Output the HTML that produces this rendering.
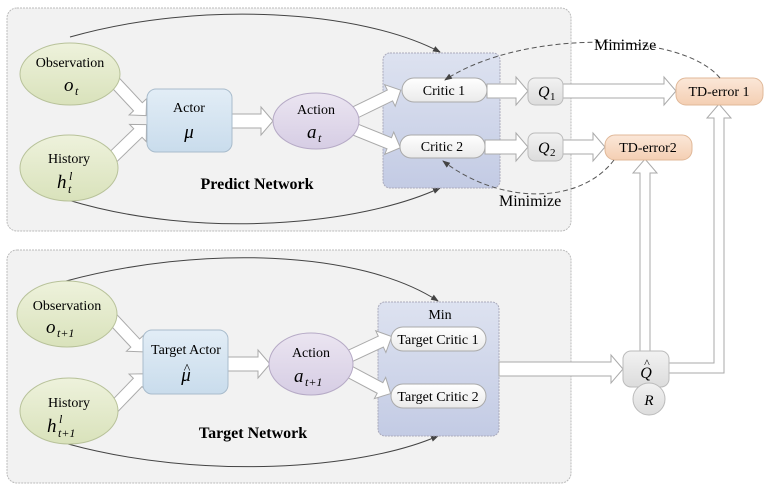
<!DOCTYPE html>
<html><head><meta charset="utf-8"><style>
html,body{margin:0;padding:0;background:#fff;}
svg{display:block;font-family:"Liberation Serif",serif;}
.ha{fill:#fff;stroke:#aaa;stroke-width:1;}
.m{font-style:italic;}
</style></head><body>
<svg width="768" height="491" viewBox="0 0 768 491">
<defs>
<linearGradient id="gE" x1="0" y1="0" x2="0" y2="1"><stop offset="0" stop-color="#eef2dc"/><stop offset="1" stop-color="#d9e2bb"/></linearGradient>
<linearGradient id="gA" x1="0" y1="0" x2="0" y2="1"><stop offset="0" stop-color="#e2edf6"/><stop offset="1" stop-color="#c9dcec"/></linearGradient>
<linearGradient id="gP" x1="0" y1="0" x2="0" y2="1"><stop offset="0" stop-color="#ebe5f1"/><stop offset="1" stop-color="#d6cde4"/></linearGradient>
<linearGradient id="gC" x1="0" y1="0" x2="0" y2="1"><stop offset="0" stop-color="#dde2f0"/><stop offset="1" stop-color="#c3cbe4"/></linearGradient>
<linearGradient id="gW" x1="0" y1="0" x2="0" y2="1"><stop offset="0" stop-color="#ffffff"/><stop offset="1" stop-color="#eaeaea"/></linearGradient>
<linearGradient id="gQ" x1="0" y1="0" x2="0" y2="1"><stop offset="0" stop-color="#f2f2f2"/><stop offset="1" stop-color="#dcdcdc"/></linearGradient>
<linearGradient id="gO" x1="0" y1="0" x2="0" y2="1"><stop offset="0" stop-color="#fbe7d8"/><stop offset="1" stop-color="#f4cfb3"/></linearGradient>
<marker id="ar" markerWidth="8" markerHeight="6" refX="7" refY="3" orient="auto"><path d="M0,0 L8,3 L0,6z" fill="#444"/></marker>
</defs>

<rect x="7" y="8" width="564" height="223" rx="10" fill="#f2f2f2" stroke="#bbb" stroke-dasharray="2,1"/>
<rect x="7" y="250" width="564" height="233" rx="10" fill="#f2f2f2" stroke="#bbb" stroke-dasharray="2,1"/>

<path d="M70,37 C200,0 360,10 440,52" fill="none" stroke="#444" stroke-width="1" marker-end="url(#ar)"/>
<path d="M68,200 C200,240 360,225 440,188" fill="none" stroke="#444" stroke-width="1" marker-end="url(#ar)"/>
<path d="M66,281 C200,245 360,250 438,301" fill="none" stroke="#444" stroke-width="1" marker-end="url(#ar)"/>
<path d="M68,444 C200,480 360,470 438,436" fill="none" stroke="#444" stroke-width="1" marker-end="url(#ar)"/>

<rect x="383" y="53" width="117" height="135" rx="7" fill="url(#gC)" stroke="#aab" stroke-dasharray="2,1"/>
<rect x="378" y="302" width="121" height="134" rx="7" fill="url(#gC)" stroke="#aab" stroke-dasharray="2,1"/>
<text x="440" y="319" font-size="14" text-anchor="middle">Min</text>

<g class="ha">
<polygon transform="translate(112,79) rotate(47)" points="0,-6 38,-6 38,-12 50,0 38,12 38,6 0,6"/>
<polygon transform="translate(112,158) rotate(-44)" points="0,-6 36,-6 36,-12 48,0 36,12 36,6 0,6"/>
<polygon points="232,114 261,114 261,107 273,121 261,135 261,128 232,128"/>
<polygon transform="translate(354,113) rotate(-26)" points="0,-6 40,-6 40,-12 52,0 40,12 40,6 0,6"/>
<polygon transform="translate(354,129) rotate(22)" points="0,-6 38,-6 38,-12 50,0 38,12 38,6 0,6"/>
<polygon points="487,84 516,84 516,77 528,91 516,105 516,98 487,98"/>
<polygon points="485,140 516,140 516,133 528,147 516,161 516,154 485,154"/>
<polygon points="563,84 664,84 664,77 676,91 664,105 664,98 563,98"/>
<polygon points="563,140 593,140 593,133 605,147 593,161 593,154 563,154"/>

<polygon transform="translate(110,316) rotate(47)" points="0,-6 37,-6 37,-12 49,0 37,12 37,6 0,6"/>
<polygon transform="translate(112,409) rotate(-46)" points="0,-6 37,-6 37,-12 49,0 37,12 37,6 0,6"/>
<polygon points="228,357 258,357 258,350 270,364 258,378 258,371 228,371"/>
<polygon transform="translate(350,356) rotate(-25)" points="0,-6 34,-6 34,-12 46,0 34,12 34,6 0,6"/>
<polygon transform="translate(350,372) rotate(28)" points="0,-6 34,-6 34,-12 46,0 34,12 34,6 0,6"/>
<polygon points="499,362 611,362 611,355 623,369 611,383 611,376 499,376"/>
<polygon points="640,351 640,173 633,173 645,159 657,173 650,173 650,351"/>
<polygon points="669,363 714,363 714,118 707,118 719,104 731,118 724,118 724,373 669,373"/>
</g>

<ellipse cx="70" cy="74" rx="50" ry="31" fill="url(#gE)" stroke="#b8c29a"/>
<text x="70" y="67" font-size="14" text-anchor="middle">Observation</text>
<text x="64" y="91" font-size="19" class="m">o</text><text x="75" y="95" font-size="12" class="m">t</text>
<ellipse cx="69" cy="168" rx="49" ry="33" fill="url(#gE)" stroke="#b8c29a"/>
<text x="69" y="163" font-size="14" text-anchor="middle">History</text>
<text x="57" y="188" font-size="19" class="m">h</text><text x="68" y="193" font-size="12" class="m">t</text><text x="69" y="180" font-size="12" class="m">l</text>

<rect x="147" y="89" width="85" height="63" rx="9" fill="url(#gA)" stroke="#a9bccc"/>
<text x="189" y="112" font-size="14" text-anchor="middle">Actor</text>
<text x="189" y="138" font-size="19" class="m" text-anchor="middle">μ</text>

<ellipse cx="316" cy="121" rx="43" ry="28" fill="url(#gP)" stroke="#b6aac6"/>
<text x="316" y="114" font-size="14" text-anchor="middle">Action</text>
<text x="307" y="138" font-size="19" class="m">a</text><text x="318" y="142" font-size="12" class="m">t</text>

<text x="257" y="189" font-size="16" font-weight="bold" text-anchor="middle">Predict Network</text>

<rect x="402" y="78" width="85" height="24" rx="12" fill="url(#gW)" stroke="#aaa"/>
<text x="444" y="95" font-size="14" text-anchor="middle">Critic 1</text>
<rect x="400" y="135" width="85" height="23" rx="11" fill="url(#gW)" stroke="#aaa"/>
<text x="442" y="151" font-size="14" text-anchor="middle">Critic 2</text>

<rect x="528" y="78" width="35" height="27" rx="7" fill="url(#gQ)" stroke="#bbb"/>
<text x="538" y="97" font-size="16" class="m">Q</text><text x="550" y="100" font-size="11">1</text>
<rect x="528" y="133" width="35" height="28" rx="7" fill="url(#gQ)" stroke="#bbb"/>
<text x="538" y="153" font-size="16" class="m">Q</text><text x="550" y="156" font-size="11">2</text>

<rect x="676" y="78" width="87" height="27" rx="10" fill="url(#gO)" stroke="#e0b898"/>
<text x="719" y="96" font-size="14" text-anchor="middle">TD-error 1</text>
<rect x="605" y="135" width="87" height="25" rx="10" fill="url(#gO)" stroke="#e0b898"/>
<text x="648" y="152" font-size="14" text-anchor="middle">TD-error2</text>

<path d="M720,78 C680,30 520,30 445,80" fill="none" stroke="#555" stroke-dasharray="5,3" marker-end="url(#ar)"/>
<path d="M614,160 C580,205 500,205 443,161" fill="none" stroke="#555" stroke-dasharray="5,3" marker-end="url(#ar)"/>
<text x="594" y="50" font-size="16">Minimize</text>
<text x="499" y="206" font-size="16">Minimize</text>

<ellipse cx="67" cy="314" rx="50" ry="33" fill="url(#gE)" stroke="#b8c29a"/>
<text x="67" y="310" font-size="14" text-anchor="middle">Observation</text>
<text x="46" y="333" font-size="19" class="m">o</text><text x="57" y="337" font-size="12" class="m">t+1</text>
<ellipse cx="69" cy="411" rx="49" ry="33" fill="url(#gE)" stroke="#b8c29a"/>
<text x="69" y="407" font-size="14" text-anchor="middle">History</text>
<text x="47" y="432" font-size="19" class="m">h</text><text x="58" y="437" font-size="12" class="m">t+1</text><text x="59" y="423" font-size="12" class="m">l</text>

<rect x="143" y="330" width="85" height="64" rx="9" fill="url(#gA)" stroke="#a9bccc"/>
<text x="186" y="354" font-size="14" text-anchor="middle">Target Actor</text>
<text x="186" y="381" font-size="19" class="m" text-anchor="middle">μ</text>
<text x="187" y="373" font-size="14" text-anchor="middle">^</text>

<ellipse cx="311" cy="364" rx="42" ry="31" fill="url(#gP)" stroke="#b6aac6"/>
<text x="311" y="357" font-size="14" text-anchor="middle">Action</text>
<text x="294" y="382" font-size="19" class="m">a</text><text x="305" y="386" font-size="12" class="m">t+1</text>

<text x="253" y="438" font-size="16" font-weight="bold" text-anchor="middle">Target Network</text>

<rect x="391" y="327" width="95" height="24" rx="12" fill="url(#gW)" stroke="#aaa"/>
<text x="438" y="344" font-size="14" text-anchor="middle">Target Critic 1</text>
<rect x="391" y="384" width="95" height="24" rx="12" fill="url(#gW)" stroke="#aaa"/>
<text x="438" y="401" font-size="14" text-anchor="middle">Target Critic 2</text>

<rect x="623" y="351" width="46" height="36" rx="8" fill="url(#gQ)" stroke="#bbb"/>
<circle cx="649" cy="399" r="16" fill="url(#gQ)" stroke="#bbb"/>
<text x="646" y="378" font-size="16" class="m" text-anchor="middle">Q</text>
<text x="647" y="367" font-size="12" text-anchor="middle">^</text>
<text x="649" y="405" font-size="15" class="m" text-anchor="middle">R</text>
</svg>
</body></html>
